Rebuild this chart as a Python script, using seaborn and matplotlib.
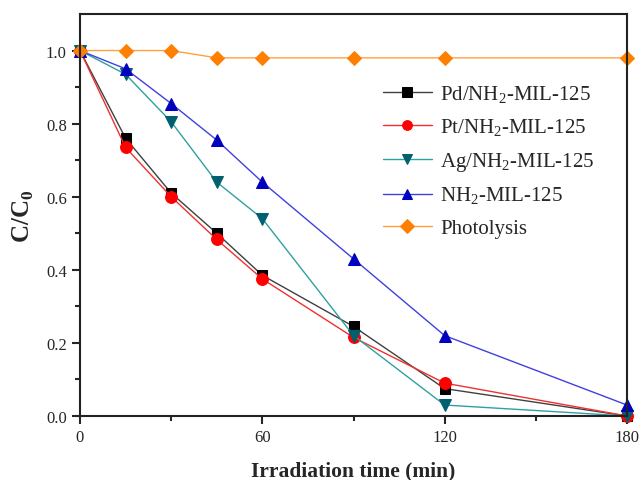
import matplotlib
matplotlib.use("Agg")
import matplotlib.pyplot as plt
import seaborn as sns
import pandas as pd
from matplotlib.ticker import MultipleLocator

time = [0, 15, 30, 45, 60, 90, 120, 180]
pd_vals = [1.0, 0.76, 0.61, 0.50, 0.385, 0.245, 0.075, 0.0]
pt_vals = [1.0, 0.735, 0.60, 0.483, 0.375, 0.215, 0.09, 0.0]
ag_vals = [1.0, 0.935, 0.805, 0.64, 0.54, 0.22, 0.03, 0.0]
nh2_vals = [1.0, 0.95, 0.855, 0.755, 0.64, 0.43, 0.22, 0.03]
photo_vals = [1.0, 1.0, 1.0, 0.98, 0.98, 0.98, 0.98, 0.98]

labels = ["Pd/NH$_2$-MIL-125", "Pt/NH$_2$-MIL-125", "Ag/NH$_2$-MIL-125",
          "NH$_2$-MIL-125", "Photolysis"]
series = [pd_vals, pt_vals, ag_vals, nh2_vals, photo_vals]

rows = []
for lab, vals in zip(labels, series):
    for t, v in zip(time, vals):
        rows.append({"time": t, "C": v, "sample": lab})
df = pd.DataFrame(rows)

sns.set_style("ticks")
plt.rcParams["font.family"] = ["Liberation Serif", "DejaVu Serif"]
plt.rcParams["mathtext.fontset"] = "custom"
plt.rcParams["mathtext.rm"] = "Liberation Serif"
plt.rcParams["mathtext.bf"] = "Liberation Serif:bold"

fig = plt.figure(figsize=(6.44, 4.81), dpi=100)
ax = fig.add_axes([80/644, 1-417/481, (627-80)/644, (417-15)/481])

line_colors = ["#404040", "#f03030", "#30a0a0", "#4040e0", "#ffa040"]
mk_colors = ["#000000", "#ff0000", "#006070", "#0000c0", "#ff8000"]
markers = ["s", "o", "v", "^", "D"]
msizes = [7, 8.5, 9, 9, 7.5]

for lab, lc, mc, m, ms in zip(labels, line_colors, mk_colors, markers, msizes):
    sub = df[df["sample"] == lab]
    sns.lineplot(data=sub, x="time", y="C", ax=ax, color=lc, lw=1.0,
                 marker=m, markersize=ms, markerfacecolor=mc,
                 markeredgecolor=mc, label=lab, clip_on=False)

ax.set_xlim(0, 180)
ax.set_ylim(0, 1.1)
ax.xaxis.set_major_locator(MultipleLocator(60))
ax.xaxis.set_minor_locator(MultipleLocator(30))
ax.set_yticks([0, 0.2, 0.4, 0.6, 0.8, 1.0])
ax.set_yticks([0.1, 0.3, 0.5, 0.7, 0.9], minor=True)
ax.set_yticklabels(["0.0", "0.2", "0.4", "0.6", "0.8", "1.0"])
ax.tick_params(axis="both", which="major", direction="out", length=6, width=1.5,
               labelsize=12)
ax.tick_params(axis="both", which="minor", direction="out", length=3.5, width=1.5)
for s in ["left", "bottom", "right", "top"]:
    ax.spines[s].set_linewidth(1.5)
    ax.spines[s].set_color("#222222")

ax.set_xlabel("Irradiation time (min)", fontsize=15.5, fontweight="bold", labelpad=11)
ax.set_ylabel("C/C$_\\mathbf{0}$", fontsize=18, fontweight="bold", labelpad=7)

leg = ax.legend(loc="upper left", bbox_to_anchor=(383/644, 1-84/481),
                bbox_transform=fig.transFigure, frameon=False,
                fontsize=15, handlelength=2.35, labelspacing=0.57,
                handletextpad=0.4, borderpad=0, borderaxespad=0)
for h in leg.legend_handles:
    h.set_markersize(7)

fig.savefig("out.png", dpi=100)
